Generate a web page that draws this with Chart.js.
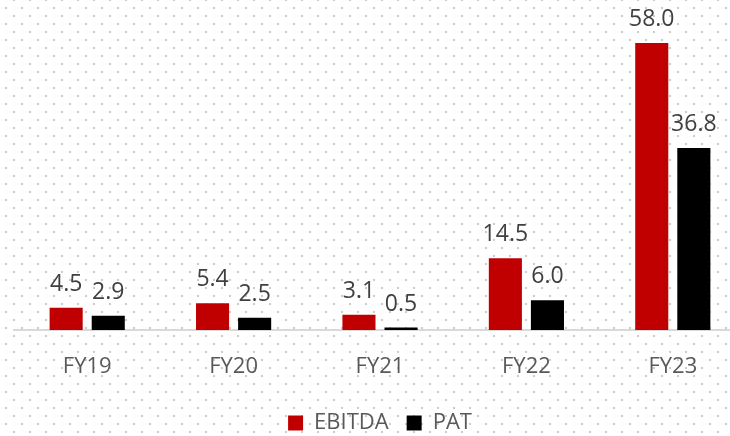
<!DOCTYPE html>
<html>
<head>
<meta charset="utf-8">
<script src="https://cdn.jsdelivr.net/npm/chart.js@4"></script>
<style>
  html, body { margin: 0; padding: 0; overflow: hidden; background: #fff; }
  #wrap { width: 746px; height: 444px; }
</style>
</head>
<body>
<div id="wrap"><canvas id="chart"></canvas></div>
<script>
// values (Rs cr)
let years  = ["FY19", "FY20", "FY21", "FY22", "FY23"];
let ebitda = [4.5, 5.4, 3.1, 14.5, 58.0];
let pat    = [2.9, 2.5, 0.5, 6.0, 36.8];

// staggered dot pattern behind everything
const dotBackground = {
    id: 'dotBackground',
    beforeDraw(chart) {
        const ctx = chart.ctx;
        ctx.save();
        ctx.fillStyle = '#ffffff';
        ctx.fillRect(0, 0, chart.width, chart.height);
        ctx.fillStyle = '#cccccc';
        for (let y = 0, row = 0; y < chart.height; y += 8, row++) {
            let x0 = (row % 2 === 0) ? 14 : 6;
            for (let x = x0; x < chart.width; x += 16) {
                ctx.fillRect(x - 1, y - 1, 2, 2);
            }
        }
        ctx.restore();
    }
};

// value labels above each bar
const valueLabels = {
    id: 'valueLabels',
    afterDatasetsDraw(chart) {
        const ctx = chart.ctx;
        ctx.save();
        ctx.font = '23px "Open Sans"';
        ctx.fillStyle = '#404040';
        ctx.textAlign = 'center';
        ctx.textBaseline = 'alphabetic';
        chart.data.datasets.forEach((ds, i) => {
            chart.getDatasetMeta(i).data.forEach((bar, j) => {
                ctx.fillText(ds.data[j].toFixed(1), bar.x, bar.y - 17);
            });
        });
        ctx.restore();
    }
};

const ctx = document.getElementById('chart').getContext('2d');
const chart = new Chart(ctx, {
    type: 'bar',
    data: {
        labels: years,
        datasets: [{
            label: 'EBITDA',
            backgroundColor: '#c00000',
            borderWidth: 0,
            data: ebitda
        }, {
            label: 'PAT',
            backgroundColor: '#000000',
            borderWidth: 0,
            data: pat
        }]
    },
    options: {
        responsive: true,
        maintainAspectRatio: false,
        animation: false,
        datasets: {
            bar: { categoryPercentage: 0.575, barPercentage: 0.786 }
        },
        layout: { padding: { left: 14, right: 0, top: 0, bottom: 0 } },
        scales: {
            x: {
                grid: { display: false, drawTicks: false },
                border: { display: true, color: '#d9d9d9', width: 2 },
                ticks: { color: '#595959', font: { family: 'Open Sans', size: 22 }, padding: 24 },
                afterFit(scale) { scale.height = 64; }
            },
            y: {
                display: false,
                min: 0,
                max: 66.7
            }
        },
        plugins: {
            tooltip: { enabled: false },
            legend: {
                position: 'bottom',
                labels: {
                    color: '#595959',
                    font: { family: 'Open Sans', size: 22 },
                    boxWidth: 15,
                    boxHeight: 15,
                    padding: 18
                }
            }
        }
    },
    plugins: [dotBackground, valueLabels]
});
</script>
</body>
</html>
